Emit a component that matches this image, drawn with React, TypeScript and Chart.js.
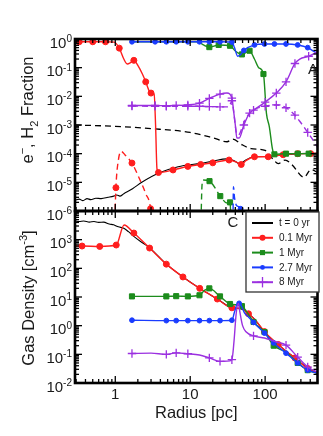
import React, { useEffect, useRef } from 'react';
import { Chart, registerables } from 'chart.js';

Chart.register(...registerables);

type Pt = [number, number, number?];

// ---------- axes ----------
const X_MIN = 0.29;
const X_MAX = 500;
const FRAC_MIN = 1e-6;
const FRAC_MAX = 1;
const DENS_MIN = 1e-2;
const DENS_MAX = 1e4;
const X_TICK_VALUES = [1, 10, 100];
const X_TICK_LABELS = ['1', '10', '100'];
const FRAC_TICK_EXP = [0, -1, -2, -3, -4, -5, -6];
const DENS_TICK_EXP = [3, 2, 1, 0, -1, -2];
const SERIES_LABELS = ['t = 0 yr', '0.1 Myr', '1 Myr', '2.7 Myr', '8 Myr'];

// ---------- panel A: fractions (solid = e-, dashed = H2) ----------
const BLACK_E: Pt[] = [[0.29,2.4e-6],[0.33,2.6e-6],[0.37,2.3e-6],[0.42,2.7e-6],[0.47,2.5e-6],[0.55,2.8e-6],[0.65,2.7e-6],[0.8,3.0e-6],[0.95,3.3e-6],[1.05,3.6e-6],[1.15,3.3e-6],[1.3,4e-6],[1.7,6e-6],[2.26,1e-5],[3.8,2.1e-5],[6.9,3.5e-5],[13.8,4.6e-5],[20,5.5e-5],[31,6.6e-5],[38,5.8e-5],[46,4.4e-5],[55,6e-5],[70,7.8e-5],[110,8e-5],[200,9.5e-5],[500,1.05e-4]];
const BLACK_H2: Pt[] = [[0.29,1e-3],[1,9e-4],[3,7.5e-4],[10,5.5e-4],[20,3.6e-4],[31,2.6e-4],[37,3.2e-4],[50,2e-4],[65,1.5e-4],[100,1.3e-4],[130,6e-5],[150,4.5e-5],[185,6e-5],[230,4e-5],[330,1.5e-5],[410,2.8e-5],[500,2.2e-5]];
const RED_E: Pt[] = [[0.29,0.8,0],[0.33,0.8,1],[0.5,0.8,1],[0.74,0.8,1],[0.97,0.78,0],[1.13,0.48,1],[1.3,0.2,0],[1.44,0.135,0],[1.6,0.15,0],[1.77,0.18,1],[2.0,0.12,0],[2.3,0.06,0],[2.55,0.032,1],[2.85,0.015,0],[3.0,0.013,1],[3.3,0.012,0],[3.45,1e-3,0],[3.6,3e-5,0],[3.77,2.2e-5,1],[5.9,2.7e-5,1],[9.3,3.6e-5,1],[13.8,4.2e-5,1],[20,4.8e-5,1],[33,6e-5,1],[42,5e-5,0],[48,4.2e-5,1],[56,5.8e-5,0],[72,7.8e-5,1],[110,7.8e-5,1],[174,9.2e-5,1],[272,1e-4,1],[406,1e-4,1],[500,1.02e-4,0]];
const RED_H2: Pt[] = [[0.97,1e-7,0],[1.02,6.5e-6,1],[1.1,6e-5,0],[1.2,1.2e-4,0],[1.35,9e-5,0],[1.67,4.7e-5,1],[2.06,1.5e-5,0],[2.55,4e-6,0],[2.96,1.2e-6,1],[3.2,1e-7,0]];
const GREEN_E: Pt[] = [[1.67,0.8,0],[12.6,0.8,0],[15,0.62,0],[18,0.52,1],[24,0.62,1],[34,0.58,1],[40,0.38,0],[49,0.29,1],[62,0.39,1],[72,0.2,0],[82,0.1,0],[95,0.06,1],[104,2.6e-3,0],[114,8.5e-4,0],[125,1.5e-4,0],[133,9.5e-5,1],[190,1e-4,1],[272,1e-4,1],[381,1e-4,1],[500,1e-4,0]];
const GREEN_H2: Pt[] = [[13.8,1e-7,0],[14.3,6e-6,0],[14.8,1.2e-5,0],[18.1,1.1e-5,1],[25.2,3.3e-6,1],[31,1.9e-6,0],[34,2e-6,1],[35.5,1e-7,0]];
const BLUE_E: Pt[] = [[1.67,0.8,1],[3.4,0.8,1],[4.8,0.8,1],[6.5,0.8,1],[9.3,0.8,1],[13.3,0.8,1],[18,0.8,1],[25,0.8,1],[36,0.78,1],[39,0.5,0],[43,0.25,0],[46,0.27,0],[52,0.4,1],[72,0.62,1],[98,0.67,1],[133,0.67,1],[190,0.67,1],[272,0.62,1],[370,0.5,1],[440,0.38,0],[500,0.31,0]];
const BLUE_H2: Pt[] = [[37,1e-7,0],[37.8,7e-6,0],[39,3e-6,0],[42,1.5e-6,0],[47,1.2e-6,1],[50,1e-7,0]];
const PURPLE_E: Pt[] = [[1.67,4.8e-3,1],[3.4,4.8e-3,1],[4.8,4.7e-3,1],[6.5,4.8e-3,1],[9.3,5e-3,1],[13.3,5.8e-3,1],[18,8.5e-3,1],[25,0.012,1],[31,0.013,0],[36,8.7e-3,1],[38,3e-3,0],[40,1e-3,0],[42,3.5e-4,0],[45,3.5e-4,0],[52,1e-3,1],[62,2.6e-3,0],[70,3.3e-3,1],[100,6.3e-3,1],[141,0.013,1],[190,0.032,1],[250,0.14,1],[290,0.2,0],[381,0.25,1],[500,0.36,0]];
const PURPLE_H2: Pt[] = [[1.67,4.6e-3,1],[3.4,4.5e-3,1],[4.8,4.5e-3,1],[9.3,4.5e-3,1],[13.3,4.5e-3,1],[18,4.4e-3,1],[25,4.3e-3,1],[33,4.3e-3,0],[36,7e-3,1],[38,3e-3,0],[41,6e-4,0],[44,4.5e-4,0],[52,1.2e-3,0],[62,2.6e-3,1],[72,3.5e-3,0],[100,4.5e-3,1],[141,5e-3,1],[190,4e-3,1],[250,2.2e-3,1],[300,1.2e-3,0],[370,5.5e-4,1],[460,2.4e-4,0],[500,1.7e-4,0]];

// ---------- panel C: gas density ----------
const BLACK_N: Pt[] = [[0.29,4500],[0.33,4300],[0.38,4500],[0.45,4100],[0.52,4300],[0.6,4000],[0.7,4100],[0.83,3500],[0.95,3300],[1.1,2800],[1.3,2500],[1.5,1900],[1.8,1250],[2.3,780],[2.9,510],[4.8,140],[8,50],[13.4,20],[23,8.5],[36,4.2],[50,3.7],[60,2.6],[75,1.5],[98,0.6],[130,0.3],[190,0.13],[250,0.075],[300,0.05],[370,0.033],[500,0.023]];
const RED_N: Pt[] = [[0.29,600,0],[0.36,600,1],[0.62,580,1],[1.03,650,1],[1.31,3250,0],[1.77,1700,1],[2.87,510,1],[4.8,140,1],[8,50,1],[13.4,20,1],[23,8.5,1],[36,4.2,1],[48,4,0],[60,2.6,1],[75,1.5,0],[98,0.62,1],[130,0.3,0],[150,0.22,1],[190,0.13,0],[250,0.075,1],[300,0.05,0],[370,0.032,1],[500,0.022,0]];
const GREEN_N: Pt[] = [[1.67,10.5,1],[4.8,10.5,1],[6.5,10.7,1],[9.3,10.5,1],[13.3,11.5,1],[15.5,17,0],[18,20,1],[25,10.5,1],[34,5.7,1],[49,4.8,1],[56,3.2,0],[70,1.35,1],[98,0.6,1],[130,0.2,1],[190,0.12,0],[272,0.05,1],[370,0.028,1],[500,0.022,0]];
const BLUE_N: Pt[] = [[1.67,1.55,1],[4.8,1.5,1],[6.5,1.5,1],[9.3,1.5,1],[13.3,1.5,1],[18,1.5,1],[25,1.5,1],[36,1.55,1],[39,3,0],[42,5.5,0],[45,6,1],[48,5,0],[53,2.8,0],[60,2,0],[70,1.3,1],[98,0.55,1],[130,0.25,1],[190,0.11,1],[272,0.05,1],[370,0.028,1],[500,0.022,0]];
const PURPLE_N: Pt[] = [[1.67,0.107,1],[3,0.11,0],[4.8,0.1,1],[6.5,0.112,1],[9.3,0.105,1],[13.3,0.095,0],[18,0.075,1],[25,0.057,1],[31,0.058,0],[36,0.065,1],[38.5,0.3,0],[41,2.5,0],[44,6,0],[46,3,0],[50,1.0,0],[56,0.6,0],[70,0.44,1],[98,0.37,0],[141,0.27,0],[190,0.21,1],[272,0.08,1],[370,0.036,1],[500,0.024,0]];

// ---------- styles ----------
const FONT = '"Liberation Sans", Arial, Helvetica, sans-serif';
const TXT = '#1a1a1a';
const C_BLACK = '#000000';
const C_RED = '#ff1e1e';
const C_GREEN = '#1c8c1c';
const C_BLUE = '#1a3cff';
const C_PURPLE = '#9b30e0';
const LEGEND_COLORS = [C_BLACK, C_RED, C_GREEN, C_BLUE, C_PURPLE];
const LEGEND_STYLES = ['none', 'circle', 'rect', 'dot', 'cross'];

const MARK_R: Record<string, number> = { circle: 3, rect: 3.6, dot: 2.4, cross: 4.2, none: 0 };

function ds(pts: Pt[], color: string, style: string, dashed: boolean, width = 1.4) {
  const chartStyle = style === 'dot' ? 'circle' : style === 'none' ? 'circle' : style;
  const r = MARK_R[style];
  return {
    data: pts.map(([x, y, m]) => ({ x, y, m: m ? 1 : 0 })),
    borderColor: color,
    backgroundColor: color,
    borderWidth: width,
    borderDash: dashed ? [6, 4] : [],
    pointStyle: chartStyle,
    pointRadius: (c: any) => (c.raw && c.raw.m ? r : 0),
    pointHoverRadius: 0,
    pointBorderWidth: style === 'cross' ? 1.3 : 1,
    pointBorderColor: color,
    pointBackgroundColor: color,
    cubicInterpolationMode: 'monotone',
    fill: false,
  };
}

function line(ctx: CanvasRenderingContext2D, x1: number, y1: number, x2: number, y2: number) {
  ctx.beginPath();
  ctx.moveTo(x1, y1);
  ctx.lineTo(x2, y2);
  ctx.stroke();
}

function drawFrame(chart: any, yMin: number, yMax: number) {
  const { ctx, chartArea: a, scales } = chart;
  const xs = scales.x, ys = scales.y;
  ctx.save();
  ctx.strokeStyle = '#000';
  ctx.lineWidth = 1.3;
  for (let d = -1; d <= 2; d++) {
    for (let k = 1; k <= 9; k++) {
      const v = k * Math.pow(10, d);
      if (v < X_MIN || v > X_MAX) continue;
      const px = xs.getPixelForValue(v);
      const L = k === 1 ? 7 : 4;
      line(ctx, px, a.bottom, px, a.bottom - L);
      line(ctx, px, a.top, px, a.top + L);
    }
  }
  const d0 = Math.round(Math.log10(yMin)), d1 = Math.round(Math.log10(yMax));
  for (let d = d0; d <= d1; d++) {
    for (let k = 1; k <= 9; k++) {
      const v = k * Math.pow(10, d);
      if (v < yMin * 0.999 || v > yMax * 1.001) continue;
      const py = ys.getPixelForValue(v);
      const L = k === 1 ? 7 : 4;
      line(ctx, a.left, py, a.left + L, py);
      line(ctx, a.right, py, a.right - L, py);
    }
  }
  ctx.lineWidth = 2.6;
  ctx.strokeRect(a.left, a.top, a.right - a.left, a.bottom - a.top);
  ctx.restore();
}

function drawPow(ctx: CanvasRenderingContext2D, xr: number, py: number, e: number) {
  ctx.save();
  ctx.fillStyle = TXT;
  ctx.textAlign = 'right';
  ctx.textBaseline = 'alphabetic';
  const sup = e < 0 ? '-' + String(-e) : String(e);
  ctx.font = `10px ${FONT}`;
  const sw = ctx.measureText(sup).width;
  ctx.fillText(sup, xr, py + 3);
  ctx.font = `15px ${FONT}`;
  ctx.fillText('10', xr - sw, py + 8.5);
  ctx.restore();
}

type Part = { t: string; s?: number };
function drawRich(ctx: CanvasRenderingContext2D, parts: Part[], cx: number, cy: number, size: number) {
  ctx.save();
  ctx.translate(cx, cy);
  ctx.rotate(-Math.PI / 2);
  ctx.fillStyle = TXT;
  const big = `${size}px ${FONT}`;
  const small = `${Math.round(size * 0.66)}px ${FONT}`;
  let w = 0;
  for (const p of parts) {
    ctx.font = p.s ? small : big;
    w += ctx.measureText(p.t).width;
  }
  let x = -w / 2;
  ctx.textAlign = 'left';
  ctx.textBaseline = 'alphabetic';
  const base = size * 0.36;
  for (const p of parts) {
    ctx.font = p.s ? small : big;
    const dy = p.s === 1 ? -size * 0.42 : p.s === -1 ? size * 0.28 : 0;
    ctx.fillText(p.t, x, base + dy);
    x += ctx.measureText(p.t).width;
  }
  ctx.restore();
}

function drawMarker(ctx: CanvasRenderingContext2D, style: string, x: number, y: number, color: string) {
  ctx.save();
  ctx.fillStyle = color;
  ctx.strokeStyle = color;
  ctx.lineWidth = 1.3;
  if (style === 'circle' || style === 'dot') {
    ctx.beginPath();
    ctx.arc(x, y, MARK_R[style], 0, Math.PI * 2);
    ctx.fill();
  } else if (style === 'rect') {
    const s = MARK_R.rect * Math.SQRT1_2;
    ctx.fillRect(x - s, y - s, 2 * s, 2 * s);
  } else if (style === 'cross') {
    const r = MARK_R.cross + 1;
    line(ctx, x - r, y, x + r, y);
    line(ctx, x, y - r, x, y + r);
  }
  ctx.restore();
}

const topPlugin = {
  id: 'topDecor',
  afterDatasetsDraw(chart: any) {
    const ctx = chart.ctx as CanvasRenderingContext2D;
    const a = chart.chartArea;
    drawFrame(chart, FRAC_MIN, FRAC_MAX);
    FRAC_TICK_EXP.forEach((e) => drawPow(ctx, 72, chart.scales.y.getPixelForValue(Math.pow(10, e)), e));
    drawRich(ctx, [{ t: 'e' }, { t: '\u2212', s: 1 }, { t: ', H' }, { t: '2', s: -1 }, { t: ' Fraction' }], 27, a.top + 71, 16.5);
    ctx.save();
    ctx.fillStyle = TXT;
    ctx.font = `15px ${FONT}`;
    ctx.textAlign = 'center';
    ctx.textBaseline = 'middle';
    ctx.fillText('A', 313, 70);
    ctx.restore();
  },
};

const botPlugin = {
  id: 'botDecor',
  afterDatasetsDraw(chart: any) {
    const ctx = chart.ctx as CanvasRenderingContext2D;
    const a = chart.chartArea;
    drawFrame(chart, DENS_MIN, DENS_MAX);
    DENS_TICK_EXP.forEach((e) => drawPow(ctx, 72, chart.scales.y.getPixelForValue(Math.pow(10, e)), e));
    drawRich(ctx, [{ t: 'Gas Density [cm' }, { t: '-3', s: 1 }, { t: ']' }], 28, 298, 16.5);
    ctx.save();
    ctx.fillStyle = TXT;
    ctx.font = `15px ${FONT}`;
    ctx.textAlign = 'center';
    ctx.textBaseline = 'middle';
    X_TICK_VALUES.forEach((v, i) => ctx.fillText(X_TICK_LABELS[i], chart.scales.x.getPixelForValue(v), a.bottom + 12));
    ctx.font = `16.5px ${FONT}`;
    ctx.fillText('Radius [pc]', (a.left + a.right) / 2, a.bottom + 30);
    ctx.font = `15px ${FONT}`;
    ctx.fillText('C', 233, 223);
    // legend
    const lx0 = 246, ly0 = a.top + 1, lx1 = 319, ly1 = 292;
    ctx.fillStyle = '#fff';
    ctx.fillRect(lx0, ly0, lx1 - lx0, ly1 - ly0);
    ctx.strokeStyle = '#333';
    ctx.lineWidth = 1.3;
    ctx.strokeRect(lx0, ly0, lx1 - lx0, ly1 - ly0);
    SERIES_LABELS.forEach((lab, i) => {
      const y = 223 + i * 14.8;
      ctx.strokeStyle = LEGEND_COLORS[i];
      ctx.lineWidth = 2;
      line(ctx, 252, y, 273, y);
      drawMarker(ctx, LEGEND_STYLES[i], 262.5, y, LEGEND_COLORS[i]);
      ctx.fillStyle = TXT;
      ctx.font = `10px ${FONT}`;
      ctx.textAlign = 'left';
      ctx.textBaseline = 'middle';
      ctx.fillText(lab, 279, y + 0.5);
    });
    ctx.restore();
  },
};

function baseOptions(yMin: number, yMax: number, padding: any) {
  return {
    responsive: false,
    animation: false,
    devicePixelRatio: 1,
    layout: { padding },
    plugins: { legend: { display: false }, tooltip: { enabled: false } },
    events: [],
    scales: {
      x: { type: 'logarithmic', min: X_MIN, max: X_MAX, display: false },
      y: { type: 'logarithmic', min: yMin, max: yMax, display: false },
    },
  };
}

export default function App() {
  const topRef = useRef<HTMLCanvasElement>(null);
  const botRef = useRef<HTMLCanvasElement>(null);

  useEffect(() => {
    const top = new Chart(topRef.current as HTMLCanvasElement, {
      type: 'line',
      data: {
        datasets: [
          ds(PURPLE_E, C_PURPLE, 'cross', false),
          ds(PURPLE_H2, C_PURPLE, 'cross', true),
          ds(BLUE_E, C_BLUE, 'dot', false),
          ds(BLUE_H2, C_BLUE, 'dot', true),
          ds(GREEN_E, C_GREEN, 'rect', false),
          ds(GREEN_H2, C_GREEN, 'rect', true),
          ds(RED_E, C_RED, 'circle', false),
          ds(RED_H2, C_RED, 'circle', true),
          ds(BLACK_E, C_BLACK, 'none', false, 1.1),
          ds(BLACK_H2, C_BLACK, 'none', true, 1.3),
        ] as any,
      },
      options: baseOptions(FRAC_MIN, FRAC_MAX, { left: 75, right: 1, top: 39, bottom: 225 }) as any,
      plugins: [topPlugin],
    });
    const bot = new Chart(botRef.current as HTMLCanvasElement, {
      type: 'line',
      data: {
        datasets: [
          ds(PURPLE_N, C_PURPLE, 'cross', false),
          ds(BLUE_N, C_BLUE, 'dot', false),
          ds(GREEN_N, C_GREEN, 'rect', false),
          ds(RED_N, C_RED, 'circle', false),
          ds(BLACK_N, C_BLACK, 'none', false, 1.1),
        ] as any,
      },
      options: baseOptions(DENS_MIN, DENS_MAX, { left: 75, right: 1, top: 211, bottom: 53 }) as any,
      plugins: [botPlugin],
    });
    return () => {
      top.destroy();
      bot.destroy();
    };
  }, []);

  const cs: React.CSSProperties = { position: 'absolute', left: 0, top: 0, width: 323, height: 436 };
  return (
    <div style={{ position: 'absolute', left: 0, top: 0, width: 323, height: 436, background: '#fff' }}>
      <canvas ref={topRef} width={323} height={436} style={cs} />
      <canvas ref={botRef} width={323} height={436} style={cs} />
    </div>
  );
}
